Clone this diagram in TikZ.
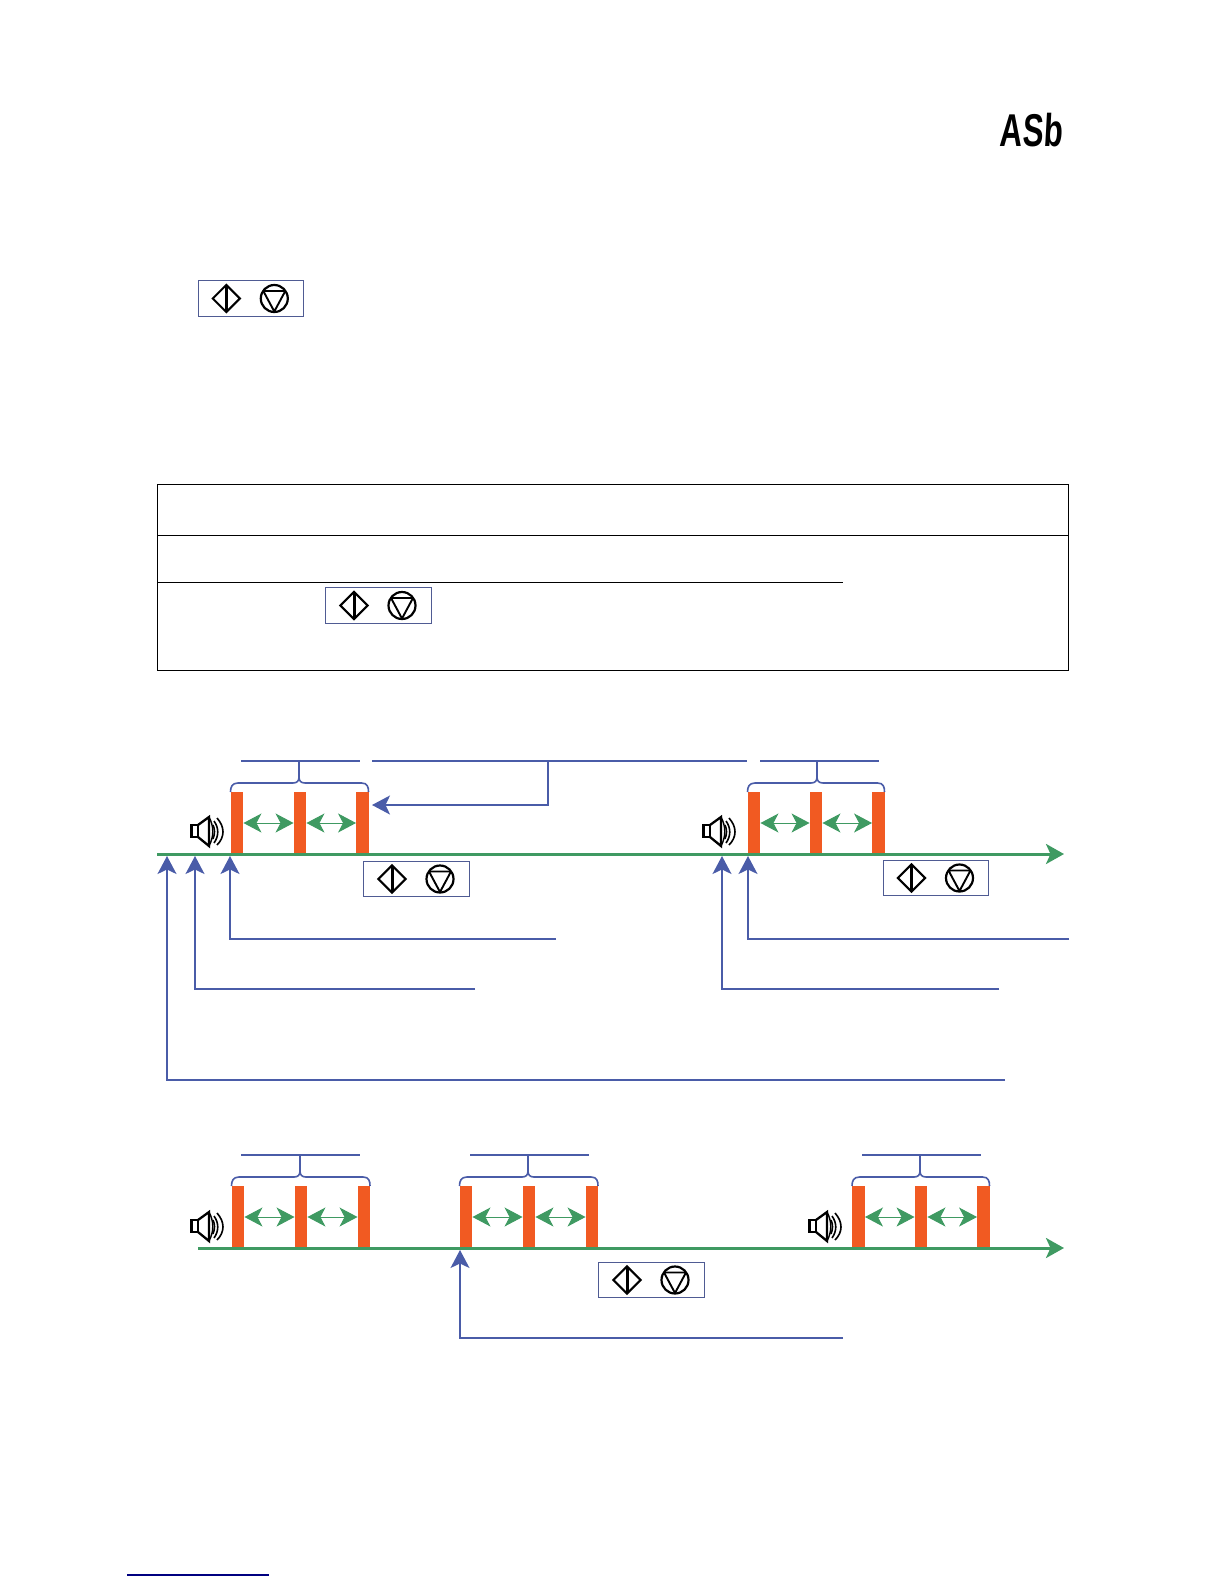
\documentclass[tikz,border=0pt]{standalone}
\usepackage{fontspec}
\setmainfont{Liberation Sans}
\newfontfamily\dispfont[FakeSlant=0.08,BoldFeatures={FakeSlant=0.08}]{Liberation Sans}
\usetikzlibrary{arrows.meta,shapes.geometric}
\definecolor{leadblue}{HTML}{4A5CA8}
\definecolor{boxblue}{HTML}{4F5B93}
\definecolor{pulsegreen}{HTML}{3F9A62}
\definecolor{pulseorange}{HTML}{F15A22}
\tikzset{
  lead/.style={draw=leadblue,line width=1.7pt},
  leadarrow/.style={lead,-{Stealth[length=18pt,width=19pt,inset=4.5pt]}},
  axisline/.style={draw=pulsegreen,line width=3pt,-{Stealth[length=18pt,width=20pt,inset=4.5pt]}},
  gap/.style={draw=pulsegreen,line width=1pt,{Stealth[length=18pt,width=19pt,inset=5pt]}-{Stealth[length=18pt,width=19pt,inset=5pt]}},
  pulsebar/.style={fill=pulseorange,draw=none,inner sep=0pt,minimum width=12.5pt,minimum height=62pt},
  keybox/.style={draw=boxblue,line width=1.1pt,inner sep=0pt,minimum width=105.5pt,minimum height=35.5pt,fill=white},
  keydiamond/.style={diamond,draw=black,line width=2.1pt,inner sep=0pt,minimum width=28pt,minimum height=28pt},
  keycircle/.style={circle,draw=black,line width=2.2pt,inner sep=0pt,minimum size=27pt},
  tableline/.style={draw=black,line width=1pt},
  speakerline/.style={draw=black,line width=2.3pt,line join=miter}
}
% keys box: name, centre x, centre y
\newcommand{\keybtn}[3]{%
  \node[keybox] (#1) at (#2,#3) {};
  \node[keydiamond] (#1d) at (#2-24.5,#3) {};
  \node[keycircle] (#1c) at (#2+23.5,#3) {};
  \draw[black,line width=3pt,shorten >=2.5pt,shorten <=2.5pt] (#1d.north) -- (#1d.south);
  \draw[black,line width=1.9pt,line join=round] (#2+12.5,#3-7.5) -- (#2+34.5,#3-7.5) -- (#2+23.5,#3+13) -- cycle;
}
% speaker: left x, top y
\newcommand{\spkr}[2]{%
  \draw[speakerline,fill=white] (#1+1.5,#2+9) rectangle (#1+8,#2+21);
  \draw[speakerline] (#1+8,#2+9) -- (#1+19,#2+1) -- (#1+19,#2+30) -- (#1+8,#2+21);
  \draw[black,line width=1.4pt] (#1+19,#2+1) .. controls (#1+24,#2+10) and (#1+24,#2+21) .. (#1+19,#2+30);
  \draw[black,line width=1.6pt] (#1+23,#2+9) .. controls (#1+25,#2+13) and (#1+25,#2+18) .. (#1+23,#2+23);
  \draw[black,line width=1.6pt] (#1+24,#2+5) .. controls (#1+29,#2+12) and (#1+29,#2+20) .. (#1+24,#2+27);
  \draw[black,line width=1.6pt] (#1+27,#2+2) .. controls (#1+35,#2+11) and (#1+35,#2+21) .. (#1+27,#2+29);
}
% pulse group: id, x1, x2, x3 (bar centres), axis y, brace centre, line left, line right
\newcommand{\pulses}[8]{%
  \node[pulsebar] (#1a) at (#2,#5-31) {};
  \node[pulsebar] (#1b) at (#3,#5-31) {};
  \node[pulsebar] (#1c) at (#4,#5-31) {};
  \draw[gap] (#1a.east) -- (#1b.west);
  \draw[gap] (#1b.east) -- (#1c.west);
  \draw[draw=leadblue,line width=1.6pt]
    (#2-6.5,#5-62) .. controls (#2-6.5,#5-67) and (#2-5,#5-71) .. (#2+1,#5-71)
    -- (#6-6,#5-71) .. controls (#6-2,#5-71) and (#6,#5-73) .. (#6,#5-77)
    .. controls (#6,#5-73) and (#6+2,#5-71) .. (#6+6,#5-71)
    -- (#4-1,#5-71) .. controls (#4+5,#5-71) and (#4+6,#5-67) .. (#4+6,#5-62);
  \draw[draw=leadblue,line width=1.5pt] (#6,#5-76) -- (#6,#5-93);
  \draw[lead] (#7,#5-93) -- (#8,#5-93);
}
\begin{document}
\begin{tikzpicture}[x=1pt,y=-1pt]
\useasboundingbox (0,0) rectangle (1224,1584);

% display reading
\node[inner sep=0pt,anchor=center,xscale=.68] (display) at (1031,130)
  {\fontsize{46}{46}\selectfont\dispfont\bfseries ASb};

% top keys
\keybtn{keytop}{250.8}{298.5}

% table
\draw[tableline] (157,484) rectangle (1068.5,670);
\coordinate (tl) at (157,535);
\coordinate (tr) at (1068.5,535);
\coordinate (ml) at (157,582);
\coordinate (mr) at (842.5,582);
\draw[tableline] (tl) -- (tr);
\draw[tableline] (ml) -- (mr);
\keybtn{keytab}{378.5}{605.5}

% first timeline
\spkr{190}{816}
\spkr{702}{816}
\pulses{p}{237}{300}{362.5}{854}{299}{241}{360}
\pulses{q}{754}{816}{878.5}{854}{817}{760}{879}
\coordinate (axs) at (157,854);
\coordinate (axe) at (1064,854);
\draw[axisline] (axs) -- (axe);
\keybtn{keya}{416.5}{879}
\keybtn{keyb}{936}{878}

\coordinate (ls) at (372,761);
\coordinate (le) at (747,761);
\coordinate (lj) at (548,761);
\coordinate (lc) at (548,805);
\coordinate (lt) at (372,805);
\draw[lead] (ls) -- (le);
\draw[leadarrow] (lj) -- (lc) -- (lt);

\coordinate (u1) at (167,856);
\coordinate (u2) at (195,856);
\coordinate (u3) at (230,856);
\coordinate (u4) at (722,856);
\coordinate (u5) at (748,856);
\coordinate (e1) at (1005,1080);
\coordinate (e2) at (475,989);
\coordinate (e3) at (556,939);
\coordinate (e4) at (999,989);
\coordinate (e5) at (1069,939);
\draw[leadarrow] (e1) -| (u1);
\draw[leadarrow] (e2) -| (u2);
\draw[leadarrow] (e3) -| (u3);
\draw[leadarrow] (e4) -| (u4);
\draw[leadarrow] (e5) -| (u5);

% second timeline
\spkr{190}{1211}
\spkr{808}{1211}
\pulses{r}{238}{301}{364}{1248}{300}{241}{360}
\pulses{s}{466}{529}{592}{1248}{528}{470}{589}
\pulses{t}{858.5}{921}{983.5}{1248}{920}{862}{981}
\coordinate (bxs) at (198,1248);
\coordinate (bxe) at (1064,1248);
\draw[axisline] (bxs) -- (bxe);
\keybtn{keyc}{651.5}{1280}
\coordinate (u6) at (460,1250);
\coordinate (e6) at (843,1338);
\draw[leadarrow,line width=1.2pt] (e6) -| (u6);

% footnote rule
\coordinate (fl) at (127,1575);
\coordinate (fr) at (269,1575);
\draw[draw=blue!50!black,line width=1.2pt] (fl) -- (fr);
\end{tikzpicture}
\end{document}
